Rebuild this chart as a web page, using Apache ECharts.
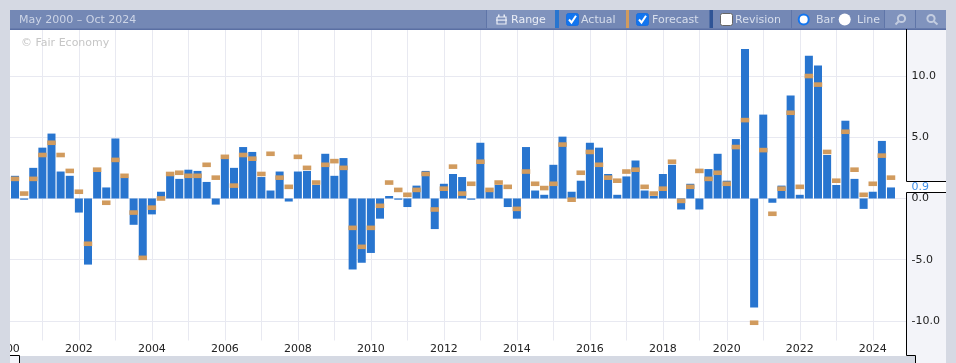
<!DOCTYPE html>
<html><head><meta charset="utf-8">
<style>html,body{margin:0;padding:0;background:#d5d9e3}#c{width:956px;height:363px}</style>
<script src="https://cdn.jsdelivr.net/npm/echarts@6/dist/echarts.min.js"></script>
</head><body><div id="c"></div>
<script>
const actual = [1.85,-0.1,2.5,4.15,5.3,2.2,1.85,-1.15,-5.4,2.2,0.9,4.9,1.7,-2.15,-4.8,-1.3,0.55,1.85,1.6,2.35,2.25,1.35,-0.5,3.25,2.5,4.2,3.8,1.75,0.65,2.2,-0.25,2.2,2.25,1.1,3.65,1.85,3.3,-5.8,-5.25,-4.45,-1.65,0.2,-0.1,-0.7,1.05,2.25,-2.5,1.2,2.0,1.75,-0.1,4.55,0.55,1.1,-0.7,-1.65,4.2,0.65,0.3,2.75,5.05,0.55,1.45,4.55,4.15,2.0,0.3,1.8,3.1,0.65,0.2,2.0,2.75,-0.9,1.2,-0.9,2.4,3.65,1.45,4.85,12.2,-8.9,6.85,-0.35,1.05,8.4,0.3,11.65,10.85,3.55,1.1,6.35,1.6,-0.85,0.55,4.7,0.9];
const forecast = [1.6,0.4,1.6,3.55,4.55,3.55,2.25,0.55,-3.7,2.35,-0.35,3.15,1.85,-1.15,-4.85,-0.75,0,2.0,2.1,1.85,1.85,2.75,1.7,3.4,1.05,3.55,3.25,2.0,3.65,1.7,0.95,3.4,2.5,1.3,2.75,3.05,2.5,-2.4,-3.95,-2.4,-0.6,1.3,0.7,0.3,0.7,2.0,-0.9,0.8,2.6,0.4,1.2,3.0,0.7,1.3,0.95,-0.85,2.2,1.2,0.85,1.2,4.4,-0.1,2.1,3.8,2.75,1.7,1.45,2.2,2.35,0.95,0.4,0.8,3.0,-0.2,0.95,2.25,1.6,2.1,1.2,4.2,6.4,-10.15,3.95,-1.25,0.8,7.0,0.95,10.0,9.3,3.8,1.45,5.45,2.35,0.3,1.2,3.5,1.7];
const yearTickIndex = [-1,3,7,11,15,19,23,27,31,35,39,43,47,51,55,59,63,67,71,75,78,82,86,90,94];
const yearTickLabel = [2000,2001,2002,2003,2004,2005,2006,2007,2008,2009,2010,2011,2012,2013,2014,2015,2016,2017,2018,2019,2020,2021,2022,2023,2024];
const yTicks = [-10,-5,0,5,10];
const lastValue = '0.9';
const rangeText = 'May 2000 – Oct 2024';
const watermark = '© Fair Economy';
const slots = actual.map((_,i)=>i).concat([97]);

const BLUE='#2875cf', ORANGE='#d19b5e', GRID='#e8e9f1', PANEL='#f3f4f9', PAGE='#d5d9e3', HEAD='#7488b5', LIGHT='#8093bd';
const fnt='"DejaVu Sans"';
const labelledIdx = yearTickIndex.filter((_,i)=>i%2===0);
const rect=(x,y,w,h,fill,z)=>({type:'rect',z:z===undefined?100:z,silent:true,shape:{x,y,width:w,height:h},style:{fill}});
const line=(x1,y1,x2,y2,stroke,w)=>({type:'line',z:104,silent:true,shape:{x1,y1,x2,y2},style:{stroke:stroke||'#000',lineWidth:w||1}});
const txt=(x,y,text,fill,extra)=>({type:'text',z:102,silent:true,x,y,style:Object.assign({text,fill,font:'11px '+fnt,textVerticalAlign:'middle'},extra||{})});
const check=(x)=>[
  {type:'rect',z:102,silent:true,shape:{x:x+0.5,y:13.5,width:12,height:12,r:2},style:{fill:'#1275ef',stroke:'#1a6fe0'}},
  {type:'polyline',z:103,silent:true,shape:{points:[[x+3,19.5],[x+5.5,22.5],[x+10,15.8]]},style:{stroke:'#fff',lineWidth:2,fill:null}}
];
const seps=[486.5,791.5,884.5,915.5].map(x=>line(x,10,x,28,'#5f75a8'));
const graphic=[
  rect(907,29,39,334,PANEL,-1),
  rect(0,0,956,10,PAGE),
  rect(0,0,10,363,PAGE),
  rect(946,0,10,363,PAGE),
  rect(20,356,895.5,7,PAGE),
  rect(10,356,9.5,7,PANEL),
  rect(10,10,936,19,HEAD),
  rect(10,28.5,936,1.5,'#5a6fa3'),
  rect(487,10,68,18,LIGHT,100.5),
  rect(885,10,61,18,LIGHT,100.5),
  txt(19,20,rangeText,'#ccd4e6'),
  ...seps,
  rect(555,10,4,18,BLUE,101),
  rect(626,10,3,18,ORANGE,101),
  rect(709.5,10,3.5,18,'#2f5496',101),
  txt(511,20.5,'Range','#e9edf6'),
  {type:'polyline',z:102,silent:true,shape:{points:[[497,17],[506,17],[506,24],[497,24],[497,17]]},style:{stroke:'#e9edf6',lineWidth:1.2,fill:null}},
  rect(496,19.5,11,1.2,'#e9edf6',102),
  rect(498,14.5,1.5,2.5,'#e9edf6',102),rect(503.5,14.5,1.5,2.5,'#e9edf6',102),
  ...check(566),txt(581,20.5,'Actual','#d7deec'),
  ...check(636),txt(652,20.5,'Forecast','#d7deec'),
  {type:'rect',z:102,silent:true,shape:{x:720.5,y:13.5,width:12,height:12,r:2},style:{fill:'#fff',stroke:'#666'}},
  txt(735,20.5,'Revision','#d7deec'),
  {type:'circle',z:102,silent:true,shape:{cx:803.7,cy:19.5,r:5},style:{fill:'#fff',stroke:'#1275ef',lineWidth:2}},
  txt(816,20.5,'Bar','#d7deec'),
  {type:'circle',z:102,silent:true,shape:{cx:844.7,cy:19.5,r:6},style:{fill:'#fff'}},
  txt(857,20.5,'Line','#d7deec'),
  {type:'circle',z:102,silent:true,shape:{cx:901.5,cy:18.5,r:3.6},style:{fill:'none',stroke:'#c3cde0',lineWidth:2}},
  line(898.5,21.5,895.5,24.5,'#c3cde0',2),
  {type:'circle',z:102,silent:true,shape:{cx:931,cy:18.5,r:3.6},style:{fill:'none',stroke:'#c3cde0',lineWidth:2}},
  line(934,21.5,937.5,24.5,'#c3cde0',2),
  txt(21,43,watermark,'#c6c6c6'),
  line(906.5,29,906.5,181.5),
  line(906.5,181.5,946,181.5),
  line(906.5,192.5,946,192.5),
  line(906.5,192.5,906.5,355.5),
  rect(907,182,39,10,'#fff'),
  txt(911.5,187,lastValue,'#3f8fe8'),
  line(906.5,355.5,915.5,355.5),
  line(915.5,355.5,915.5,363),
  line(10,355.5,19.5,355.5),
  line(19.5,355.5,19.5,363)
];
const axisRange={min:-11.6,max:13.8};
const option={
  animation:false,
  backgroundColor:'#fff',
  grid:[
    {left:0,top:29.5,width:906,height:311,outerBoundsMode:'none'},
    {left:10.4375,top:29.5,width:98*9.125,height:311,outerBoundsMode:'none'}
  ],
  xAxis:[
    {type:'value',gridIndex:0,min:-15/9.125,max:(906-15)/9.125,
      axisLine:{show:false},
      axisTick:{show:false,customValues:yearTickIndex},
      splitLine:{show:true,lineStyle:{color:GRID,width:1}},
      axisLabel:{show:true,customValues:labelledIdx,hideOverlap:false,color:'#222',fontFamily:fnt,fontSize:11,margin:3,
        formatter:v=>String(yearTickLabel[yearTickIndex.indexOf(v)])}},
    {type:'category',gridIndex:1,data:slots,boundaryGap:true,show:false}
  ],
  yAxis:[
    Object.assign({type:'value',gridIndex:0,position:'right',
      axisLine:{show:false},
      axisTick:{show:false,customValues:yTicks},
      splitLine:{show:true,lineStyle:{color:GRID,width:1}},
      axisLabel:{customValues:yTicks,color:'#222',fontFamily:fnt,fontSize:11,margin:5.5,padding:[2,0,0,0],formatter:v=>v.toFixed(1)}},axisRange),
    Object.assign({type:'value',gridIndex:1,show:false,splitLine:{show:false}},axisRange)
  ],
  series:[
    {type:'bar',xAxisIndex:1,yAxisIndex:1,barWidth:8,itemStyle:{color:BLUE},data:actual,z:2},
    {type:'scatter',xAxisIndex:1,yAxisIndex:1,symbol:'rect',symbolSize:[8.5,4.6],itemStyle:{color:ORANGE,opacity:1},data:forecast,z:3}
  ],
  graphic:{elements:graphic}
};
echarts.init(document.getElementById('c'),null,{renderer:'canvas'}).setOption(option);
</script></body></html>
